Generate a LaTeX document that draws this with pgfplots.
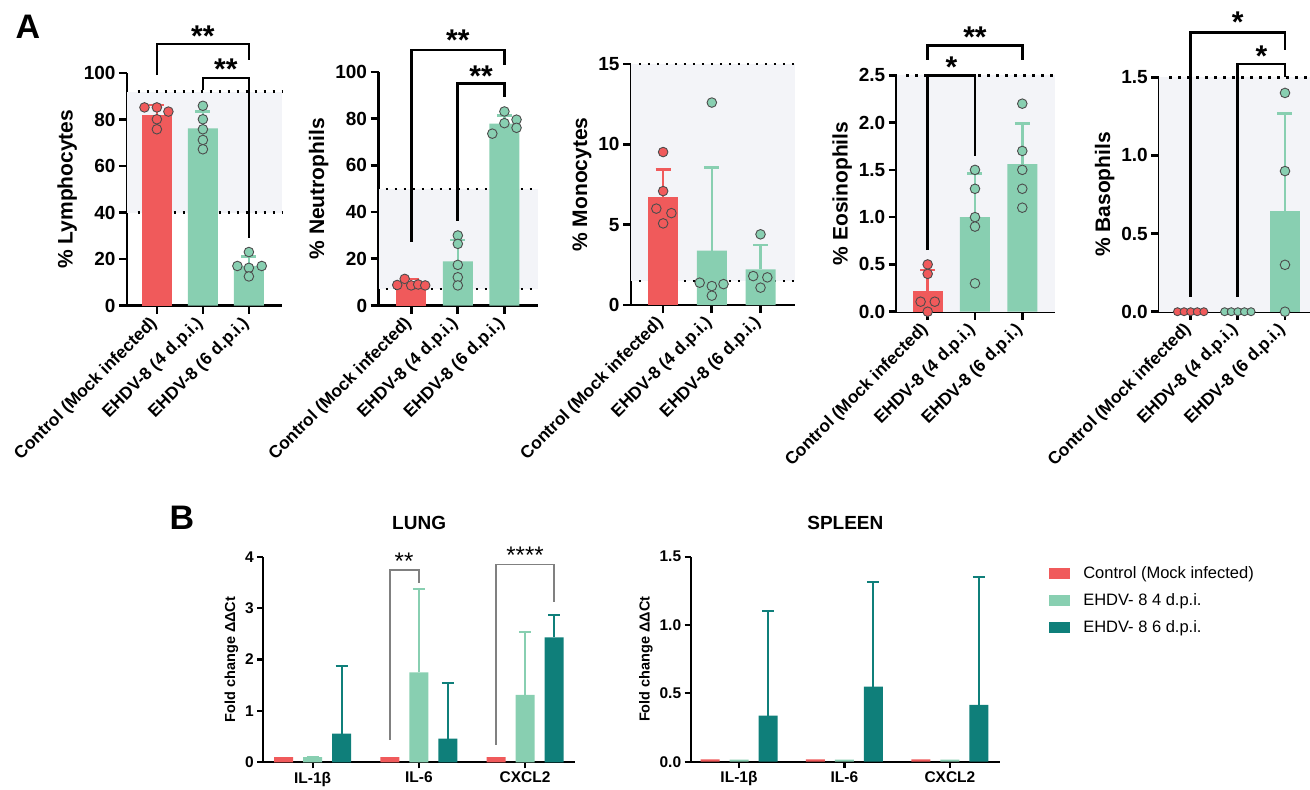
\documentclass[border=0pt]{standalone}
\usepackage{fontspec}
\setmainfont{Liberation Sans}
\usepackage{pgfplots}
\pgfplotsset{compat=1.18}
\definecolor{cRed}{HTML}{F05A5B}
\definecolor{cLight}{HTML}{88CFB1}
\definecolor{cTeal}{HTML}{0F7F7A}
\definecolor{cBand}{HTML}{F3F4F8}
\newcommand{\fs}[1]{\fontsize{#1}{#1}\selectfont}
\tikzset{
 br/.style={line width=2.7pt, black},
 gbr/.style={line width=1.3pt, black!50},
 ast/.style={anchor=base, font=\fs{30}\bfseries, inner sep=0pt},
 bast/.style={anchor=base, font=\fs{24}, inner sep=0pt},
}
\pgfplotsset{
 Abase/.style={
  scale only axis, clip=false, anchor=south west,
  axis x line*=bottom, axis y line*=left, tick pos=left,
  axis line style={line width=2.7pt},
  major tick style={line width=2.7pt, black}, tick align=outside, major tick length=8pt,
  xtick={0,1,2}, xticklabels={Control (Mock infected),EHDV-8 (4 d.p.i.),EHDV-8 (6 d.p.i.)},
  xticklabel style={rotate=45, anchor=east, font=\fs{17.3}\bfseries},
  xticklabel shift=5pt,
  yticklabel style={font=\fs{19}\bfseries},
  ylabel style={font=\fs{21}\bfseries},
  /pgf/number format/assume math mode=true,
  ymin=0,
 },
 Bbase/.style={
  scale only axis, clip=false, anchor=south west,
  axis x line*=bottom, axis y line*=left, tick pos=left,
  axis line style={line width=2.2pt},
  major tick style={line width=2.2pt, black}, tick align=outside, major tick length=6pt,
  xtick={0,1,2}, xticklabels={IL-1β,IL-6,CXCL2},
  xticklabel style={font=\fs{15.5}\bfseries},
  yticklabel style={font=\fs{15.5}\bfseries},
  ylabel style={font=\fs{14.5}\bfseries},
  ylabel={Fold change ΔΔCt},
  /pgf/number format/assume math mode=true,
  ymin=0,
 },
 dots/.style={black, line width=2.5pt, dash pattern=on 2.5pt off 6.5pt},
 band/.style={fill=cBand, draw=none},
 Abar/.style={ybar, bar width=30pt, bar shift=0pt, fill=#1, draw=none,
   error bars/.cd, y dir=plus, y explicit,
   error bar style={#1, line width=2.5pt},
   error mark options={#1, rotate=90, line width=2.5pt, mark size=7.5pt}},
 Bbar/.style={ybar, bar width=19pt, bar shift=0pt, fill=#1, draw=none,
   error bars/.cd, y dir=plus, y explicit,
   error bar style={#1, line width=2pt},
   error mark options={#1, rotate=90, line width=2pt, mark size=6pt}},
 pts/.style={only marks, mark=*, mark size=4.8pt, mark options={fill=#1, draw=black!70, line width=0.9pt}},
}
\begin{document}
\begin{tikzpicture}
\useasboundingbox (0,0) rectangle (1310pt,-790pt);

% ---------- Lymphocytes
\begin{axis}[Abase, at={(127pt,-305.5pt)}, width=155pt, height=232.5pt,
  xmin=-0.65, xmax=2.72, ymax=100, ytick={0,20,40,60,80,100}, ylabel={\% Lymphocytes}]
\addplot[band] coordinates {(-0.65,40) (2.72,40) (2.72,92) (-0.65,92)};
\addplot[dots] coordinates {(-0.42,92) (2.72,92)};
\addplot[dots] coordinates {(-0.42,40) (2.72,40)};
\addplot[Abar=cRed] coordinates {(0,82) +- (0,4.3)};
\addplot[Abar=cLight] coordinates {(1,76.2) +- (0,7.2) (2,17) +- (0,4.0)};
\addplot[pts=cRed] coordinates {(-0.27,85.2) (0,85.2) (0.25,83.4) (0,80.1) (0,75.8)};
\addplot[pts=cLight] coordinates {(1,85.9) (1,80.1) (1,75.8) (1,71.2) (1,67.2)
  (2,23) (1.75,17) (2.28,17) (2,16.2) (2,12.5)};
\draw[br] (axis cs:0,99.1) |- (axis cs:2,112.5) -- (axis cs:2,105.6);
\draw[br] (axis cs:1,92.7) |- (axis cs:2,97.8) -- (axis cs:2,29);
\node[ast] at (axis cs:1,111.6) {**};
\node[ast] at (axis cs:1.5,97.4) {**};
\end{axis}

% ---------- Neutrophils
\begin{axis}[Abase, at={(378.6pt,-305.5pt)}, width=158.9pt, height=233.5pt,
  xmin=-0.7, xmax=2.71, ymax=100, ytick={0,20,40,60,80,100}, ylabel={\% Neutrophils}]
\addplot[band] coordinates {(-0.7,7) (2.71,7) (2.71,50) (-0.7,50)};
\addplot[dots] coordinates {(-0.55,50) (2.71,50)};
\addplot[dots] coordinates {(-0.55,7) (2.71,7)};
\addplot[Abar=cRed] coordinates {(0,9.8) +- (0,1.5)};
\addplot[Abar=cLight] coordinates {(1,18.9) +- (0,9.2) (2,77.9) +- (0,3.5)};
\addplot[pts=cRed] coordinates {(-0.3,8.8) (-0.14,11.4) (0,8.6) (0.15,9.0) (0.3,8.6)};
\addplot[pts=cLight] coordinates {(1,30) (1,26.4) (1,17.4) (1,12.1) (1,8.6)
  (2,83.1) (2,78.1) (2.26,79.6) (1.74,73.6) (2.26,76.1)};
\draw[br] (axis cs:0,27.3) |- (axis cs:2,109.4) -- (axis cs:2,103);
\draw[br] (axis cs:1,36.2) |- (axis cs:2,95.2) -- (axis cs:2,89.4);
\node[ast] at (axis cs:1,109.0) {**};
\node[ast] at (axis cs:1.5,94.0) {**};
\end{axis}

% ---------- Monocytes
\begin{axis}[Abase, at={(631pt,-305pt)}, width=163.6pt, height=241pt,
  xmin=-0.66, xmax=2.7, ymax=15, ytick={0,5,10,15}, ylabel={\% Monocytes}]
\addplot[band] coordinates {(-0.66,1.5) (2.7,1.5) (2.7,15) (-0.66,15)};
\addplot[dots] coordinates {(-0.5,15) (2.7,15)};
\addplot[dots] coordinates {(-0.5,1.5) (2.7,1.5)};
\addplot[Abar=cRed] coordinates {(0,6.7) +- (0,1.74)};
\addplot[Abar=cLight] coordinates {(1,3.38) +- (0,5.19) (2,2.22) +- (0,1.51)};
\addplot[pts=cRed] coordinates {(0,9.52) (0,7.09) (-0.14,6.0) (0.17,5.72) (0,5.08)};
\addplot[pts=cLight] coordinates {(1,12.6) (0.75,1.39) (1,1.18) (1.24,1.3) (1,0.58)
  (2,4.4) (1.85,1.8) (2.14,1.72) (2,1.08)};
\end{axis}

% ---------- Eosinophils
\begin{axis}[Abase, at={(896.7pt,-311.7pt)}, width=158.7pt, height=236.4pt,
  xmin=-0.655, xmax=2.7, ymax=2.5, ytick={0,0.5,1,1.5,2,2.5},
  /pgf/number format/fixed, /pgf/number format/fixed zerofill, /pgf/number format/precision=1,
  ylabel={\% Eosinophils}]
\addplot[band] coordinates {(-0.655,0) (2.7,0) (2.7,2.5) (-0.655,2.5)};
\addplot[dots] coordinates {(-0.45,2.5) (2.7,2.5)};
\addplot[Abar=cRed] coordinates {(0,0.22) +- (0,0.22)};
\addplot[Abar=cLight] coordinates {(1,1.0) +- (0,0.46) (2,1.56) +- (0,0.43)};
\addplot[pts=cRed] coordinates {(0,0.5) (0,0.4) (-0.15,0.106) (0.15,0.106) (0,0)};
\addplot[pts=cLight] coordinates {(1,1.5) (1,1.3) (1,1.0) (1,0.9) (1,0.3)
  (2,2.2) (2,1.7) (2,1.5) (2,1.3) (2,1.1)};
\draw[br] (axis cs:0,2.662) |- (axis cs:2,2.813) -- (axis cs:2,2.662);
\draw[br] (axis cs:0,0.652) |- (axis cs:1,2.5) -- (axis cs:1,1.65);
\node[ast] at (axis cs:1,2.792) {**};
\node[ast] at (axis cs:0.5,2.482) {*};
\end{axis}

% ---------- Basophils
\begin{axis}[Abase, at={(1159.3pt,-311.7pt)}, width=158.7pt, height=234.4pt,
  xmin=-0.665, xmax=2.7, ymax=1.5, ytick={0,0.5,1,1.5},
  /pgf/number format/fixed, /pgf/number format/fixed zerofill, /pgf/number format/precision=1,
  ylabel={\% Basophils}]
\addplot[band] coordinates {(-0.665,0) (2.7,0) (2.7,1.5) (-0.665,1.5)};
\addplot[dots] coordinates {(-0.45,1.5) (2.7,1.5)};
\addplot[Abar=cLight] coordinates {(2,0.647) +- (0,0.62)};
\addplot[pts=cRed, mark size=4pt] coordinates {(-0.28,0) (-0.14,0) (0,0) (0.14,0) (0.28,0)};
\addplot[pts=cLight, mark size=4pt] coordinates {(0.72,0) (0.86,0) (1,0) (1.14,0) (1.28,0)};
\addplot[pts=cLight] coordinates {(2,1.4) (2,0.9) (2,0.3) (2,0)};
\draw[br] (axis cs:0,0.096) |- (axis cs:2,1.788) -- (axis cs:2,1.675);
\draw[br] (axis cs:1,0.096) |- (axis cs:2,1.585) -- (axis cs:2,1.5);
\node[ast] at (axis cs:1,1.785) {*};
\node[ast] at (axis cs:1.5,1.572) {*};
\end{axis}

% ---------- LUNG
\begin{axis}[Bbase, at={(263.3pt,-762.3pt)}, width=311.7pt, height=205.6pt,
  xmin=-0.465, xmax=2.47, ymax=4, ytick={0,1,2,3,4}]
\addplot[Bbar=cRed] coordinates {(-0.273,0.1) (0.727,0.1) (1.727,0.1)};
\addplot[Bbar=cLight] coordinates {(0,0.1) +- (0,0) (1,1.75) +- (0,1.62) (2,1.31) +- (0,1.22)};
\addplot[Bbar=cTeal] coordinates {(0.273,0.56) +- (0,1.32) (1.273,0.46) +- (0,1.08) (2.273,2.43) +- (0,0.43)};
\draw[gbr] (axis cs:0.727,0.43) |- (axis cs:1,3.74) -- (axis cs:1,3.48);
\draw[gbr] (axis cs:1.727,0.34) |- (axis cs:2.273,3.85) -- (axis cs:2.273,3.11);
\node[bast] at (axis cs:0.86,3.76) {**};
\node[bast] at (axis cs:2.0,3.87) {****};
\node[font=\fs{19}\bfseries] at (rel axis cs:0.5,1.164) {LUNG};
\end{axis}

% ---------- SPLEEN
\begin{axis}[Bbase, at={(690.7pt,-761.7pt)}, width=309.3pt, height=205pt,
  xmin=-0.458, xmax=2.475, ymax=1.5, ytick={0,0.5,1,1.5},
  /pgf/number format/fixed, /pgf/number format/fixed zerofill, /pgf/number format/precision=1,
  legend image code/.code={\fill (0pt,-5.5pt) rectangle (21pt,5.5pt);},
  legend style={at={(axis description cs:1.149,0.962)}, anchor=north west, draw=none, fill=none,
    font=\fs{16.5}, row sep=13.5pt, nodes={inner xsep=13pt, inner ysep=0pt}},
  legend cell align=left]
\addplot[Bbar=cRed] coordinates {(-0.275,0.017) (0.725,0.017) (1.725,0.017)};
\addplot[Bbar=cLight] coordinates {(0,0.015) (1,0.015) (2,0.015)};
\addplot[Bbar=cTeal] coordinates {(0.275,0.337) +- (0,0.768) (1.275,0.549) +- (0,0.763) (2.275,0.415) +- (0,0.936)};
\legend{Control (Mock infected),EHDV- 8 4 d.p.i.,EHDV- 8 6 d.p.i.}
\node[font=\fs{19}\bfseries] at (rel axis cs:0.5,1.164) {SPLEEN};
\end{axis}

\node[font=\fs{34}\bfseries] at (28pt,-27pt) {A};
\node[font=\fs{34}\bfseries] at (182pt,-518pt) {B};
\end{tikzpicture}
\end{document}
